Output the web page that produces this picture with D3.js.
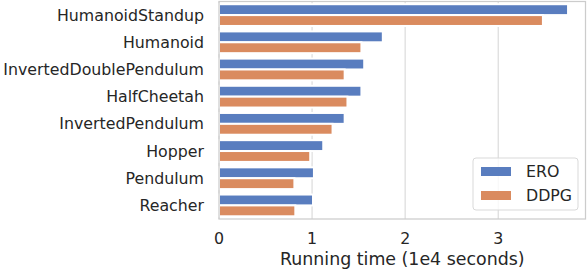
<!DOCTYPE html>
<html lang="en">
<head>
    <meta charset="UTF-8">
    <title>Running time per environment</title>
    <style>
        body, html {
            margin: 0;
            padding: 0;
            background: #ffffff;
        }
        svg text {
            font-family: "DejaVu Sans", sans-serif;
            fill: #262626;
        }
    </style>
</head>
<body>
    <script src="https://d3js.org/d3.v7.min.js"></script>
    <script>
        // environments, top to bottom
        var envs = ["HumanoidStandup", "Humanoid", "InvertedDoublePendulum", "HalfCheetah",
                    "InvertedPendulum", "Hopper", "Pendulum", "Reacher"];
        var series = ["ERO", "DDPG"];
        // running time in units of 1e4 seconds
        var ero  = [3.75, 1.76, 1.56, 1.53, 1.35, 1.12, 1.02, 1.01];
        var ddpg = [3.48, 1.53, 1.35, 1.38, 1.22, 0.98, 0.81, 0.82];
        var xTicks = [0, 1, 2, 3];

        var width = 588, height = 270;
        var margin = {left: 219, right: 2.5, top: 1.5, bottom: 51};
        var colors = {ERO: "#597dbf", DDPG: "#da8b5f"};

        var svg = d3.select("body").append("svg")
            .attr("width", width)
            .attr("height", height);

        var xMax = d3.max(ero.concat(ddpg)) * 1.05;
        var x = d3.scaleLinear()
            .domain([0, xMax])
            .range([margin.left, width - margin.right]);

        var y = d3.scaleBand()
            .domain(envs)
            .range([margin.top, height - margin.bottom])
            .paddingInner(0.2)
            .paddingOuter(0.1);

        var ySub = d3.scaleBand()
            .domain(series)
            .range([0, y.bandwidth()]);

        // gridlines
        svg.append("g")
            .selectAll("line")
            .data(xTicks)
            .enter()
            .append("line")
            .attr("x1", d => x(d)).attr("x2", d => x(d))
            .attr("y1", margin.top).attr("y2", height - margin.bottom)
            .attr("stroke", "#dddddd")
            .attr("stroke-width", 1.25);

        // bars
        var rows = envs.map(function(e, i) {
            return {env: e, vals: [{s: "ERO", v: ero[i]}, {s: "DDPG", v: ddpg[i]}]};
        });

        svg.append("g")
            .selectAll("g")
            .data(rows)
            .enter()
            .append("g")
            .attr("transform", d => "translate(0," + y(d.env) + ")")
            .selectAll("rect")
            .data(d => d.vals)
            .enter()
            .append("rect")
            .attr("x", x(0))
            .attr("y", d => ySub(d.s))
            .attr("width", d => x(d.v) - x(0))
            .attr("height", ySub.bandwidth())
            .attr("fill", d => colors[d.s])
            .attr("stroke", "#ffffff")
            .attr("stroke-width", 2);

        // frame (all four spines)
        svg.append("rect")
            .attr("x", margin.left)
            .attr("y", margin.top)
            .attr("width", width - margin.right - margin.left)
            .attr("height", height - margin.bottom - margin.top)
            .attr("fill", "none")
            .attr("stroke", "#cccccc")
            .attr("stroke-width", 1.25);

        // y tick labels
        svg.append("g")
            .selectAll("text")
            .data(envs)
            .enter()
            .append("text")
            .attr("x", margin.left - 15)
            .attr("y", d => y(d) + y.bandwidth() / 2)
            .attr("dy", "0.35em")
            .attr("text-anchor", "end")
            .style("font-size", "15.8px")
            .text(d => d);

        // x tick labels
        svg.append("g")
            .selectAll("text")
            .data(xTicks)
            .enter()
            .append("text")
            .attr("x", d => x(d))
            .attr("y", height - margin.bottom + 19)
            .attr("dy", "0.35em")
            .attr("text-anchor", "middle")
            .style("font-size", "15.8px")
            .text(d => d);

        // x axis title
        svg.append("text")
            .attr("x", (x.range()[0] + x.range()[1]) / 2)
            .attr("y", height - 5)
            .attr("text-anchor", "middle")
            .style("font-size", "17.4px")
            .text("Running time (1e4 seconds)");

        // legend
        var lg = svg.append("g").attr("transform", "translate(473,158)");
        lg.append("rect")
            .attr("width", 105).attr("height", 52)
            .attr("rx", 3)
            .attr("fill", "#ffffff").attr("fill-opacity", 0.8)
            .attr("stroke", "#d9d9d9").attr("stroke-width", 1);
        series.forEach(function(s, i) {
            lg.append("rect")
                .attr("x", 8).attr("y", 9 + i * 24)
                .attr("width", 30).attr("height", 9)
                .attr("fill", colors[s]);
            lg.append("text")
                .attr("x", 53).attr("y", 13.5 + i * 24)
                .attr("dy", "0.35em")
                .style("font-size", "15.8px")
                .text(s);
        });
    </script>
</body>
</html>
